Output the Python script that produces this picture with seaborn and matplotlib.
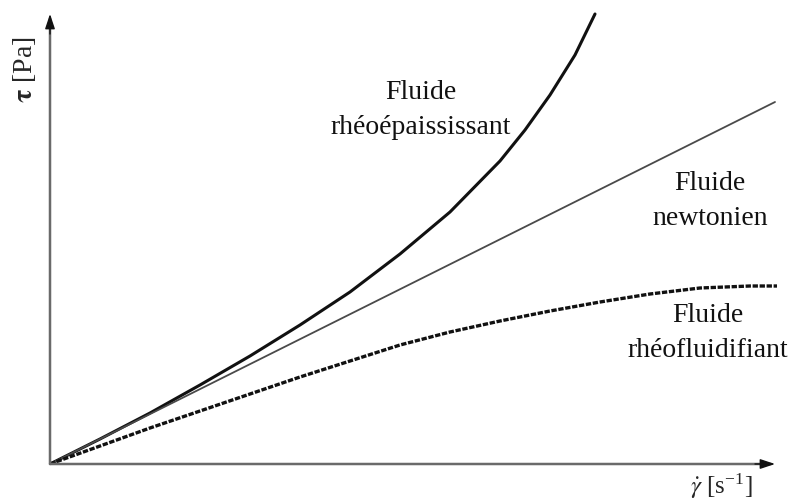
import numpy as np
import matplotlib
matplotlib.use('Agg')
import matplotlib.pyplot as plt
import pandas as pd
import seaborn as sns

# values (shear rate, stress), arbitrary units
thick_x = [0, 50, 100, 150, 200, 250, 300, 350, 400, 450, 475, 500, 525, 545]
thick_y = [0, 25, 51, 79, 108, 139, 172, 210, 252, 303, 334, 369, 409, 450]

newt_x = [0, 725]
newt_y = [0, 362]

thin_x = [0, 50, 100, 150, 200, 250, 300, 350, 400, 450, 500, 550, 600, 650, 700, 727]
thin_y = [0, 18, 36, 53, 70, 87, 103, 119, 132, 143, 153, 162, 170, 176, 178, 178]

labels = ['Fluide\nrhéoépaississant', 'Fluide\nnewtonien', 'Fluide\nrhéofluidifiant']

sns.set_style('white')
plt.rcParams['font.family'] = ['Liberation Serif', 'DejaVu Serif']
plt.rcParams['mathtext.fontset'] = 'stix'

fig = plt.figure(figsize=(7.93, 5.02), dpi=100)
ax = fig.add_axes([50/793, 37/502, 743/793, 465/502])

sns.lineplot(x=thick_x, y=thick_y, ax=ax, color='#111111', lw=2.2)
sns.lineplot(x=newt_x, y=newt_y, ax=ax, color='#4a4a4a', lw=1.3)
sns.lineplot(x=thin_x, y=thin_y, ax=ax, color='#111111', lw=2.4, ls=(0, (1.6, 0.5)))

ax.set_xlim(0, 743)
ax.set_ylim(0, 465)
for s in ax.spines.values():
    s.set_visible(False)
ax.set_xticks([])
ax.set_yticks([])

# axes: grey shafts, black heads
shaft = dict(arrowstyle='-', color='#6a6a6a', lw=1.8, shrinkA=0, shrinkB=0)
head = dict(arrowstyle='-|>,head_length=0.9,head_width=0.3', color='#111111', lw=1.0,
            shrinkA=0, shrinkB=0)
ax.annotate('', xy=(0, 446), xytext=(0, 0), arrowprops=shaft, annotation_clip=False)
ax.annotate('', xy=(721, 0), xytext=(0, 0), arrowprops=shaft, annotation_clip=False)
ax.annotate('', xy=(0, 450), xytext=(0, 430), arrowprops=head, annotation_clip=False)
ax.annotate('', xy=(725, 0), xytext=(705, 0), arrowprops=head, annotation_clip=False)

tkw = dict(fontsize=20, ha='center', va='center', linespacing=1.55, color='#111111')
ax.text(371, 355, labels[0], **tkw)
ax.text(660, 264, labels[1], **tkw)
ax.text(658, 132, labels[2], **tkw)

fig.text(25/793, 1 - 70/502, r'$\mathbf{\tau}$ [Pa]', rotation=90, fontsize=20,
         ha='center', va='center')
fig.text(722/793, 1 / 502, r'$\dot{\gamma}$ [s$^{\mathregular{-1}}$]', fontsize=18,
         ha='center', va='bottom')

fig.savefig('out.png', dpi=100)
